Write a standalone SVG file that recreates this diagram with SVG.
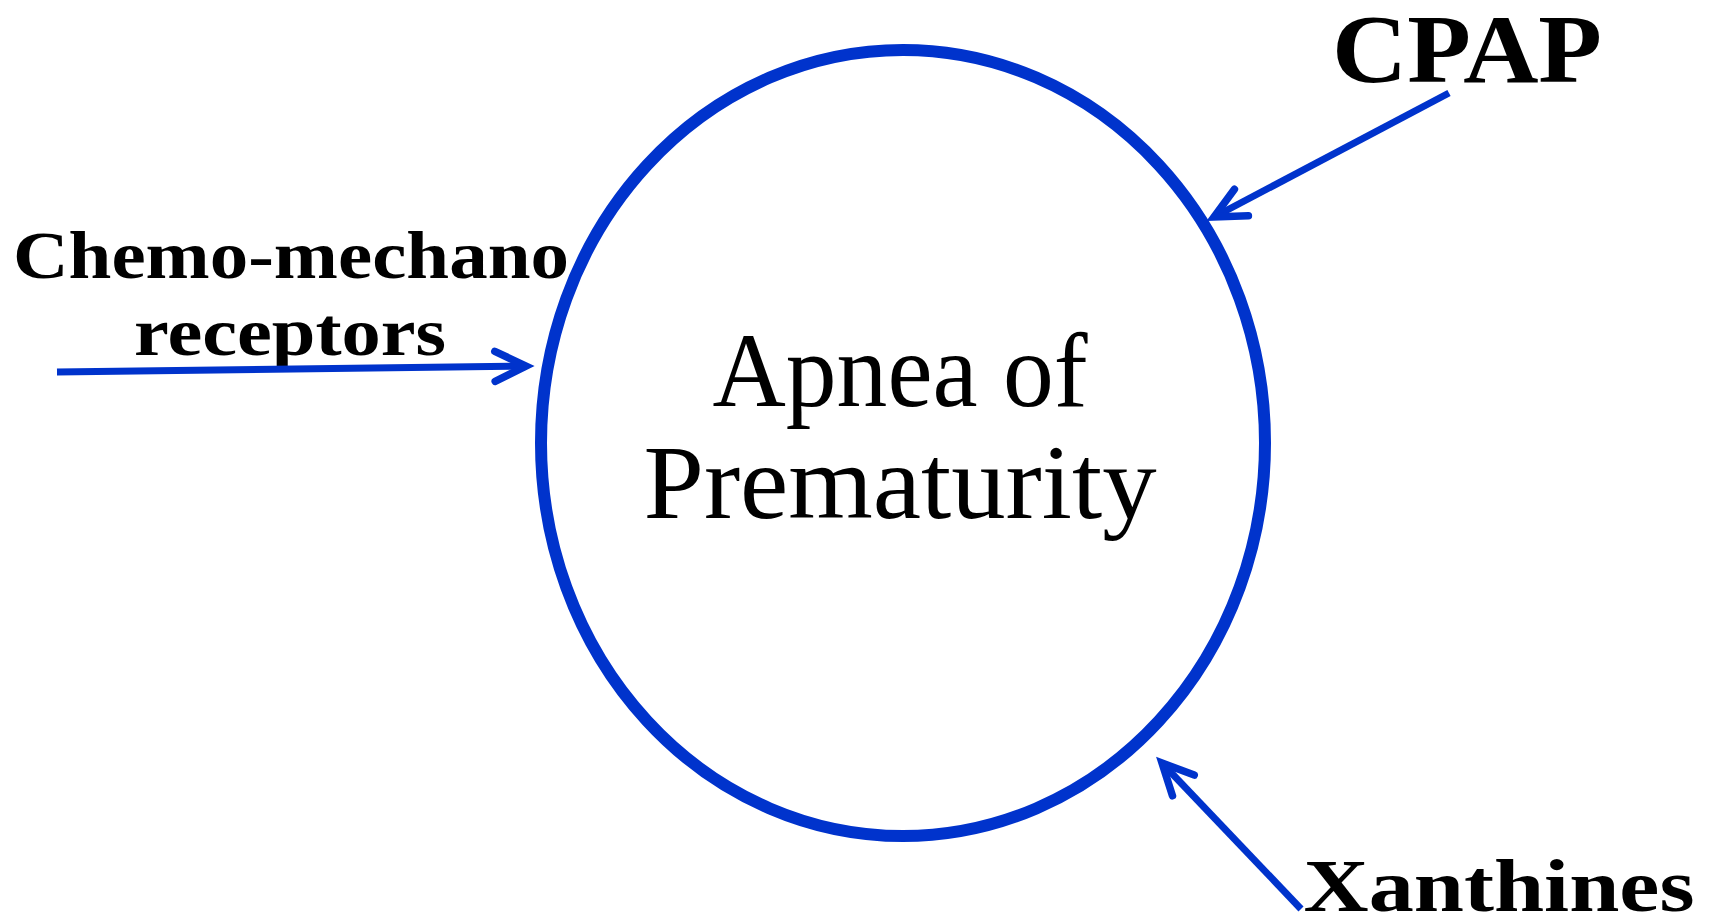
<svg xmlns="http://www.w3.org/2000/svg" width="1715" height="919" viewBox="0 0 1715 919">
  <style>
    .label { font-family: "Liberation Serif", "Times New Roman", serif; font-weight: bold; fill: #000; text-anchor: middle; }
    .center { font-family: "Liberation Serif", "Times New Roman", serif; font-weight: normal; fill: #000; text-anchor: middle; }
    .conn { stroke: #0033cc; stroke-width: 7; fill: none; }
  </style>
  <defs>
    <marker id="openArrow" markerUnits="userSpaceOnUse" viewBox="-40 -20 48 40" refX="0" refY="0" markerWidth="48" markerHeight="40" orient="auto" overflow="visible">
      <path d="M-31,-15 L0,0 L-31,15" fill="none" stroke="#0033cc" stroke-width="7.5" stroke-linecap="round" stroke-linejoin="miter"/>
    </marker>
  </defs>
  <rect width="1715" height="919" fill="#fff"/>

  <g id="node-apnea">
    <ellipse cx="903" cy="443" rx="362" ry="393" fill="none" stroke="#0033cc" stroke-width="12"/>
    <text class="center" x="900" y="406" font-size="106" textLength="375" lengthAdjust="spacingAndGlyphs">Apnea of</text>
    <text class="center" x="900" y="518" font-size="106" textLength="513" lengthAdjust="spacingAndGlyphs">Prematurity</text>
  </g>

  <g id="node-cpap">
    <text class="label" x="1467" y="82" font-size="98" textLength="270" lengthAdjust="spacingAndGlyphs">CPAP</text>
  </g>

  <g id="node-chemo">
    <text class="label" x="291" y="278" font-size="68" textLength="556" lengthAdjust="spacingAndGlyphs">Chemo-mechano</text>
    <text class="label" x="290" y="355" font-size="68" textLength="312" lengthAdjust="spacingAndGlyphs">receptors</text>
  </g>

  <g id="node-xanthines">
    <text class="label" x="1499" y="911" font-size="74" textLength="391" lengthAdjust="spacingAndGlyphs">Xanthines</text>
  </g>

  <g id="connectors">
    <line class="conn" x1="57" y1="372" x2="526" y2="366" marker-end="url(#openArrow)"/>
    <line class="conn" x1="1449" y1="93" x2="1214" y2="217" marker-end="url(#openArrow)"/>
    <line class="conn" x1="1301" y1="909" x2="1162" y2="763" marker-end="url(#openArrow)"/>
  </g>
</svg>
